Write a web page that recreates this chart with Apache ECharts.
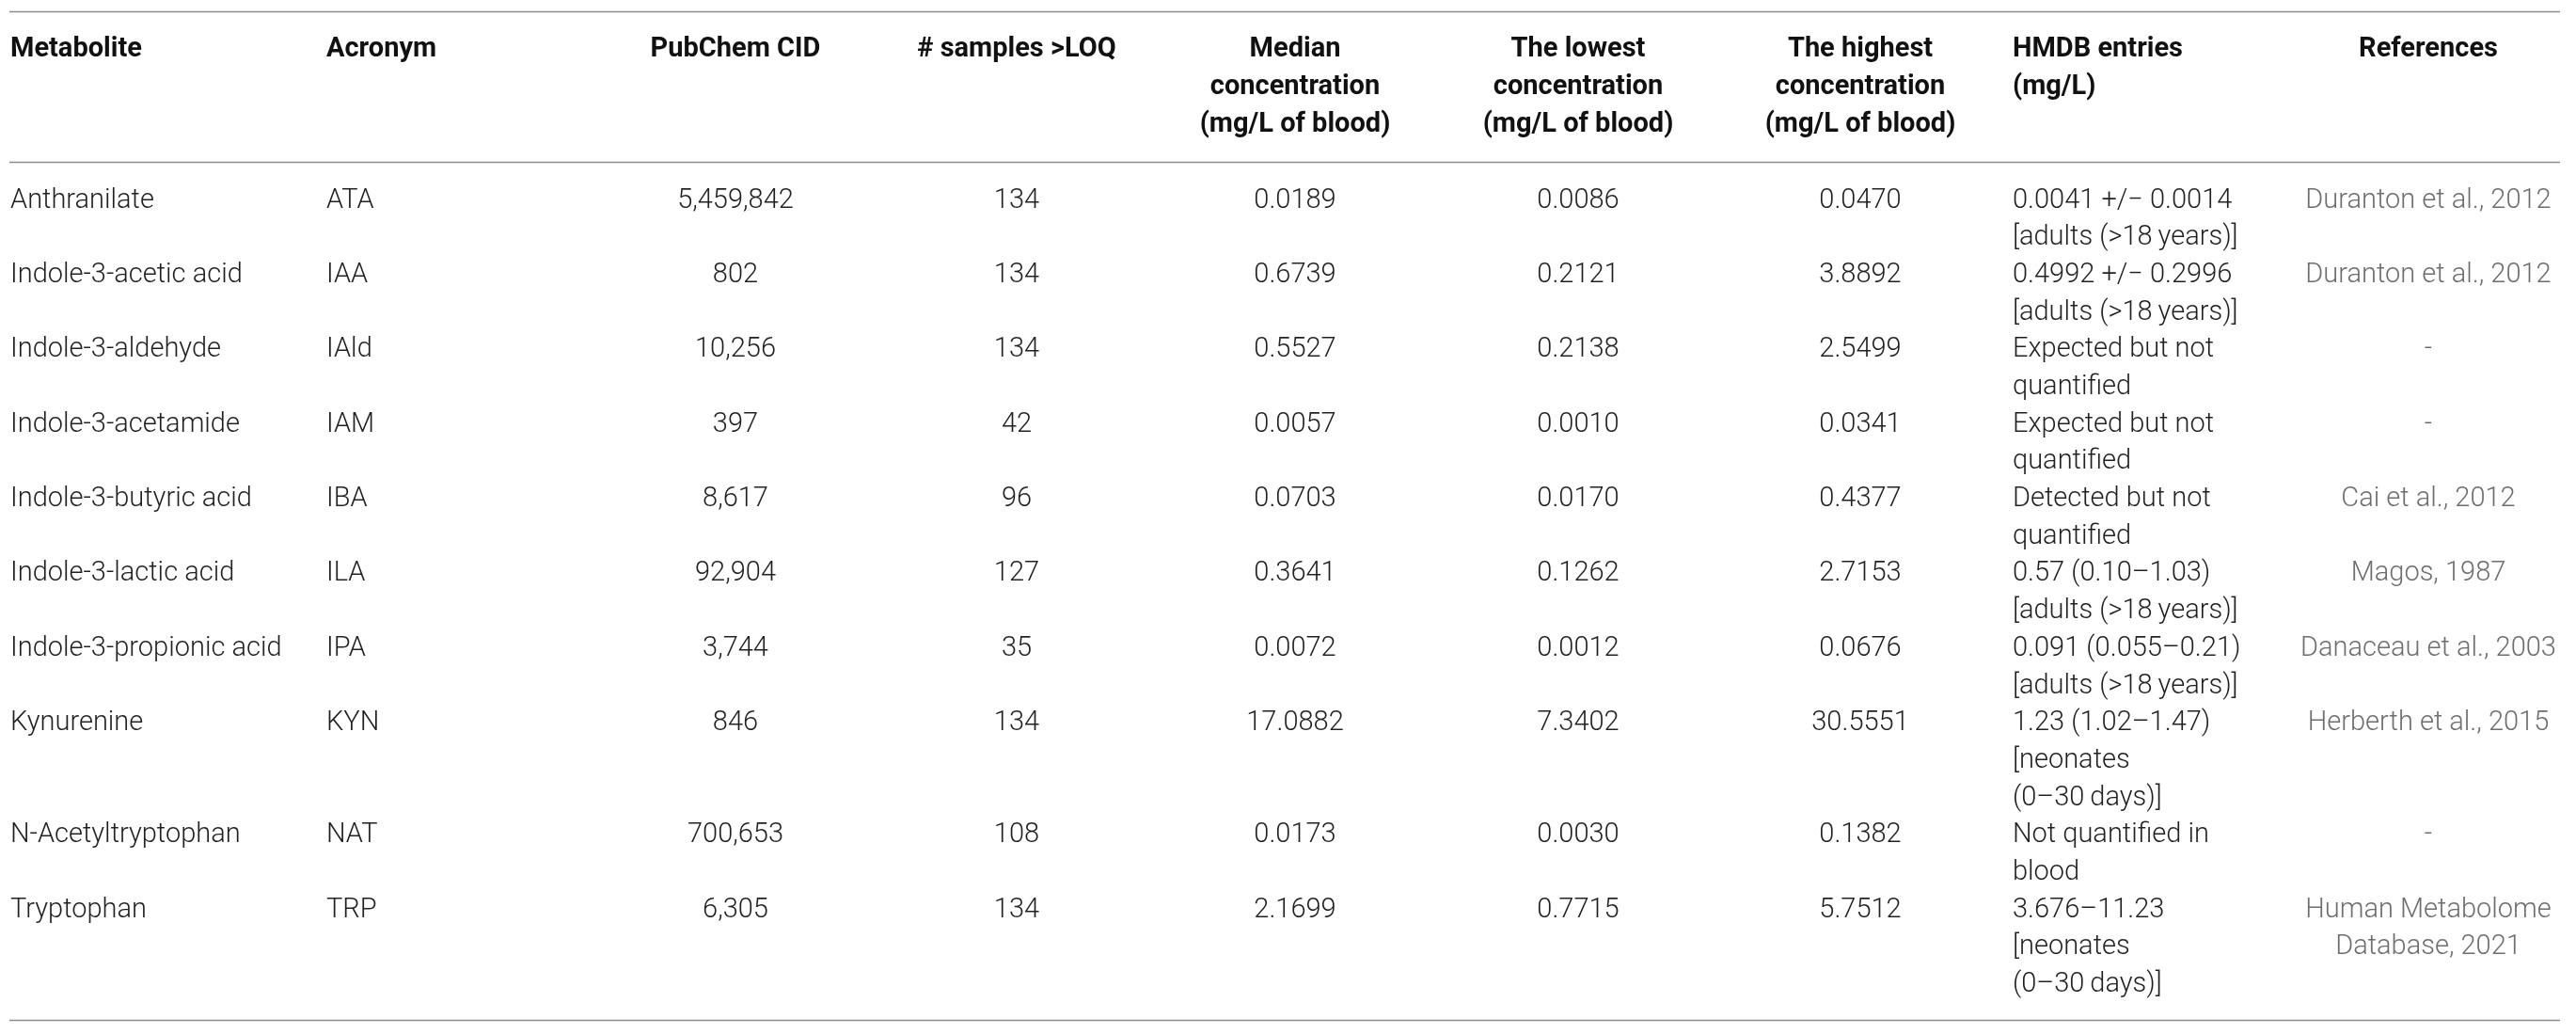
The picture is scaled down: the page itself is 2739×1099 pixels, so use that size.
<!DOCTYPE html>
<html>
<head>
<meta charset="utf-8">
<script src="https://cdn.jsdelivr.net/npm/echarts@6/dist/echarts.min.js"></script>
<style>
  html, body { margin: 0; padding: 0; background: #fff; }
  #main { width: 2739px; height: 1099px; }
</style>
</head>
<body>
<div id="main"></div>
<script>
// table contents
const headers = [
  'Metabolite', 'Acronym', 'PubChem CID', '# samples >LOQ',
  'Median\nconcentration\n(mg/L of blood)',
  'The lowest\nconcentration\n(mg/L of blood)',
  'The highest\nconcentration\n(mg/L of blood)',
  'HMDB entries\n(mg/L)', 'References'
]
const metabolites = [
  'Anthranilate', 'Indole-3-acetic acid', 'Indole-3-aldehyde', 'Indole-3-acetamide',
  'Indole-3-butyric acid', 'Indole-3-lactic acid', 'Indole-3-propionic acid',
  'Kynurenine', 'N-Acetyltryptophan', 'Tryptophan'
]
const acronyms = ['ATA', 'IAA', 'IAld', 'IAM', 'IBA', 'ILA', 'IPA', 'KYN', 'NAT', 'TRP']
const pubchemCids = ['5,459,842', '802', '10,256', '397', '8,617', '92,904', '3,744', '846', '700,653', '6,305']
const samplesAboveLoq = ['134', '134', '134', '42', '96', '127', '35', '134', '108', '134']
const medianConc = ['0.0189', '0.6739', '0.5527', '0.0057', '0.0703', '0.3641', '0.0072', '17.0882', '0.0173', '2.1699']
const lowestConc = ['0.0086', '0.2121', '0.2138', '0.0010', '0.0170', '0.1262', '0.0012', '7.3402', '0.0030', '0.7715']
const highestConc = ['0.0470', '3.8892', '2.5499', '0.0341', '0.4377', '2.7153', '0.0676', '30.5551', '0.1382', '5.7512']
const hmdbEntries = [
  '0.0041 +/\u2212 0.0014\n[adults (>18\u2009years)]',
  '0.4992 +/\u2212 0.2996\n[adults (>18\u2009years)]',
  'Expected but not\nquantified',
  'Expected but not\nquantified',
  'Detected but not\nquantified',
  '0.57 (0.10\u20131.03)\n[adults (>18\u2009years)]',
  '0.091 (0.055\u20130.21)\n[adults (>18\u2009years)]',
  '1.23 (1.02\u20131.47)\n[neonates\n(0\u201330\u2009days)]',
  'Not quantified in\nblood',
  '3.676\u201311.23\n[neonates\n(0\u201330\u2009days)]'
]
const references = [
  'Duranton et al., 2012', 'Duranton et al., 2012', '-', '-', 'Cai et al., 2012',
  'Magos, 1987', 'Danaceau et al., 2003', 'Herberth et al., 2015', '-',
  'Human Metabolome\nDatabase, 2021'
]

// layout: column anchor (px on x axis) and alignment
const colX = [11, 347, 782, 1081, 1377, 1678, 1978, 2140, 2582]
const colAlign = ['left', 'left', 'center', 'center', 'center', 'center', 'center', 'left', 'center']
const ruleFrom = 10
const ruleTo = 2722
const pad = 1.035 // line units between a rule and the next text line
const FONT = 'Roboto'
const FS = 29

const columns = [metabolites, acronyms, pubchemCids, samplesAboveLoq, medianConc,
  lowestConc, highestConc, hmdbEntries, references]
const nLines = t => t.split('\n').length

// y axis counts text lines from the top rule
const headerLines = Math.max(...headers.map(nLines))
const midRule = pad + headerLines
const cells = []
headers.forEach((h, c) => cells.push([c, pad, h, 'head']))
let y = midRule + pad
metabolites.forEach((m, r) => {
  const rowLines = Math.max(...columns.map(col => nLines(col[r])))
  columns.forEach((col, c) => cells.push([c, y, col[r], c === 8 ? 'ref' : 'body']))
  y += rowLines
})
const bottomRule = y - 1 + (pad - 0.1)
const rules = [[0], [midRule], [bottomRule]]

const styles = {
  head: { fill: '#111', fontWeight: 700 },
  body: { fill: '#231f20', fontWeight: 300 },
  ref: { fill: '#6d6e71', fontWeight: 300 }
}

const chart = echarts.init(document.getElementById('main'), null, { renderer: 'canvas' })
chart.setOption({
  backgroundColor: '#fff',
  animation: false,
  grid: { left: 0, right: 0, top: 12, bottom: 15 },
  xAxis: { type: 'value', min: 0, max: 2739, show: false },
  yAxis: { type: 'value', min: 0, max: bottomRule, inverse: true, show: false },
  series: [
    {
      type: 'custom',
      data: rules,
      encode: { y: 0 },
      renderItem: (params, api) => {
        const p1 = api.coord([ruleFrom, api.value(0)])
        const p2 = api.coord([ruleTo, api.value(0)])
        return {
          type: 'line',
          shape: { x1: p1[0], y1: Math.round(p1[1]) + 0.5, x2: p2[0], y2: Math.round(p1[1]) + 0.5 },
          style: { stroke: '#8c8c8c', lineWidth: 1.5 }
        }
      }
    },
    {
      type: 'custom',
      data: cells,
      encode: { y: 1 },
      renderItem: (params, api) => {
        const d = cells[params.dataIndex]
        const pt = api.coord([colX[d[0]], d[1] - 0.5])
        const lh = api.size([0, 1])[1]
        const st = styles[d[3]]
        return {
          type: 'text',
          x: pt[0],
          y: pt[1],
          style: {
            text: d[2],
            fill: st.fill,
            fontFamily: FONT,
            fontSize: FS,
            fontWeight: st.fontWeight,
            lineHeight: lh,
            align: colAlign[d[0]],
            textAlign: colAlign[d[0]],
            verticalAlign: 'top',
            textVerticalAlign: 'top'
          }
        }
      }
    }
  ]
})
</script>
</body>
</html>
